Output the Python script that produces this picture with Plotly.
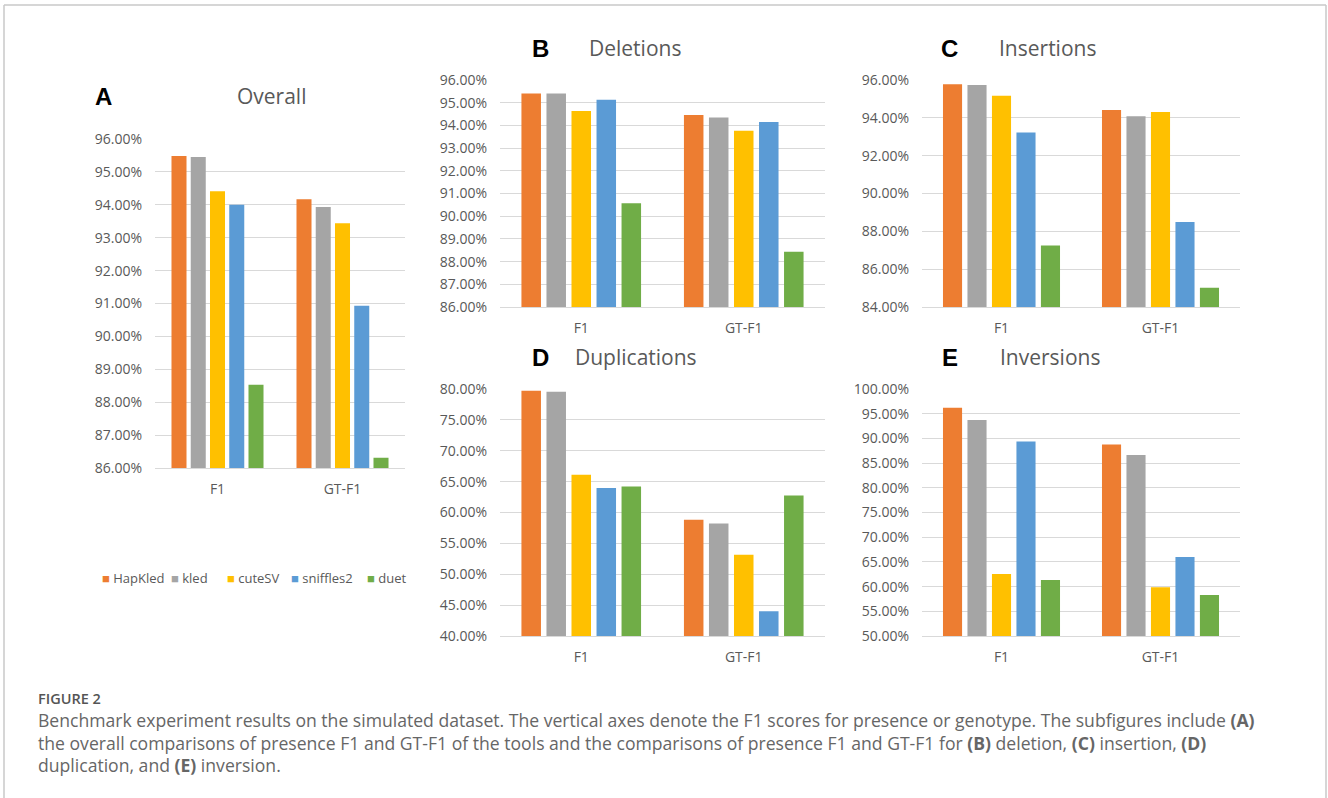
import plotly.graph_objects as go

W, H = 1328, 798

tools = ["HapKled", "kled", "cuteSV", "sniffles2", "duet"]
colors = ["#ED7D31", "#A5A5A5", "#FFC000", "#5B9BD5", "#70AD47"]
metrics = ["F1", "GT-F1"]

# values in percent, [F1, GT-F1] per tool
overall = {
    "HapKled": [95.48, 94.17],
    "kled": [95.45, 93.93],
    "cuteSV": [94.41, 93.44],
    "sniffles2": [94.00, 90.93],
    "duet": [88.53, 86.31],
}
deletions = {
    "HapKled": [95.41, 94.46],
    "kled": [95.40, 94.35],
    "cuteSV": [94.63, 93.76],
    "sniffles2": [95.13, 94.15],
    "duet": [90.57, 88.43],
}
insertions = {
    "HapKled": [95.77, 94.41],
    "kled": [95.74, 94.08],
    "cuteSV": [95.17, 94.31],
    "sniffles2": [93.23, 88.50],
    "duet": [87.25, 85.02],
}
duplications = {
    "HapKled": [79.73, 58.81],
    "kled": [79.57, 58.22],
    "cuteSV": [66.11, 53.14],
    "sniffles2": [63.95, 44.00],
    "duet": [64.22, 62.76],
}
inversions = {
    "HapKled": [96.22, 88.78],
    "kled": [93.72, 86.62],
    "cuteSV": [62.57, 59.86],
    "sniffles2": [89.39, 66.01],
    "duet": [61.35, 58.31],
}

panels = [
    ("A", "Overall", overall, (155, 405), (139, 468), (86, 96), 1, 93, 235, 96),
    ("B", "Deletions", deletions, (500, 825), (80, 307), (86, 96), 1, 530, 587, 48),
    ("C", "Insertions", insertions, (922, 1240), (80, 307), (84, 96), 2, 939, 997, 48),
    ("D", "Duplications", duplications, (500, 825), (389, 636), (40, 80), 5, 530, 573, 357),
    ("E", "Inversions", inversions, (922, 1240), (389, 636), (50, 100), 5, 940, 998, 357),
]


def px(x):
    return x / W


def py(y):
    return 1 - y / H


fig = go.Figure()
layout = {}
annotations = []
TICK_COLOR = "#595959"
GRID = "#D9D9D9"

for i, (letter, title, data, xd, yd, yr, dt, lx, tx, ty) in enumerate(panels):
    n = "" if i == 0 else str(i + 1)
    for t, c in zip(tools, colors):
        fig.add_trace(go.Bar(
            x=metrics, y=data[t], name=t,
            marker=dict(color=c, line=dict(width=0)),
            xaxis="x" + n, yaxis="y" + n,
            showlegend=False, legendgroup=t,
        ))
    layout["xaxis" + n] = dict(
        domain=[px(xd[0]), px(xd[1])], anchor="y" + n, automargin=False,
        showgrid=False, showline=True, linecolor=GRID, linewidth=1,
        ticks="", tickfont=dict(family="Open Sans", size=14, color=TICK_COLOR),
        ticklabelstandoff=8, fixedrange=True,
    )
    layout["yaxis" + n] = dict(
        domain=[py(yd[1]), py(yd[0])], anchor="x" + n, automargin=False,
        range=list(yr), dtick=dt, tick0=yr[0],
        ticksuffix="%", tickformat=".2f",
        showgrid=True, gridcolor=GRID, gridwidth=1, zeroline=False,
        showline=False, ticks="",
        tickfont=dict(family="Open Sans", size=14, color=TICK_COLOR),
        ticklabelstandoff=12, fixedrange=True,
    )
    annotations.append(dict(
        x=px(lx), y=py(ty), xref="paper", yref="paper", text="<b>" + letter + "</b>",
        showarrow=False, xanchor="left", yanchor="middle",
        font=dict(family="Liberation Sans", size=24, color="#000000"),
    ))
    annotations.append(dict(
        x=px(tx), y=py(ty), xref="paper", yref="paper", text=title,
        showarrow=False, xanchor="left", yanchor="middle",
        font=dict(family="Open Sans", size=21, color=TICK_COLOR),
    ))

# legend built from the tool names and colours
legend_x = [100, 169, 225, 289, 365]
for t, c, lx in zip(tools, colors, legend_x):
    annotations.append(dict(
        x=px(lx), y=py(578), xref="paper", yref="paper",
        text='<span style="color:%s">■</span> %s' % (c, t),
        showarrow=False, xanchor="left", yanchor="middle",
        font=dict(family="Open Sans", size=13, color=TICK_COLOR),
    ))

caption_lines = [
    "Benchmark experiment results on the simulated dataset. The vertical axes denote the F1 scores for presence or genotype. The subfigures include <b>(A)</b>",
    "the overall comparisons of presence F1 and GT-F1 of the tools and the comparisons of presence F1 and GT-F1 for <b>(B)</b> deletion, <b>(C)</b> insertion, <b>(D)</b>",
    "duplication, and <b>(E)</b> inversion.",
]

annotations.append(dict(
    x=px(36), y=py(698), xref="paper", yref="paper", text="FIGURE 2",
    showarrow=False, xanchor="left", yanchor="middle",
    font=dict(family="Open Sans", size=14.5, color="#555555", weight=600),
))
for k, line in enumerate(caption_lines):
    annotations.append(dict(
        x=px(36), y=py(720 + 22.5 * k), xref="paper", yref="paper", text=line,
        showarrow=False, xanchor="left", yanchor="middle",
        font=dict(family="Open Sans", size=17.6, color="#666666"),
    ))

shapes = [
    dict(type="line", xref="paper", yref="paper", x0=px(4), x1=px(1326), y0=py(5), y1=py(5),
         line=dict(color="#C8C8C8", width=1.5)),
    dict(type="line", xref="paper", yref="paper", x0=px(4), x1=px(4), y0=py(5), y1=py(800),
         line=dict(color="#C8C8C8", width=1.5)),
    dict(type="line", xref="paper", yref="paper", x0=px(1326), x1=px(1326), y0=py(5), y1=py(800),
         line=dict(color="#C8C8C8", width=1.5)),
]

fig.update_layout(
    width=W, height=H,
    margin=dict(l=0, r=0, t=0, b=0, pad=0, autoexpand=False),
    paper_bgcolor="white", plot_bgcolor="white",
    barmode="group", bargap=0.23, bargroupgap=0.22,
    showlegend=False,
    annotations=annotations,
    shapes=shapes,
    **layout,
)

fig.write_html("out.html", config={"displayModeBar": False},
               post_script="document.body.style.margin='0';")
